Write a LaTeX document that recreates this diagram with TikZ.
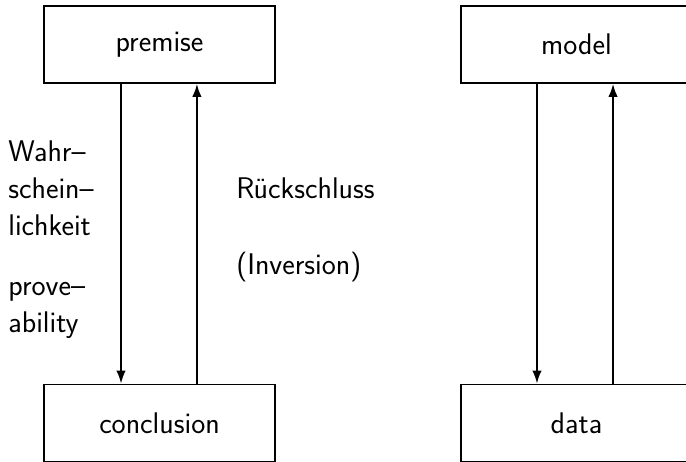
\documentclass[tikz,border=0pt]{standalone}
\usepackage{tikz}
\usetikzlibrary{arrows.meta,positioning}
\tikzset{
  box/.style={draw=black, line width=1.1pt, minimum width=231*0.02cm,
              minimum height=77*0.02cm, inner sep=0pt,
              font=\sffamily\fontsize{17}{21.2}\selectfont},
  lab/.style={inner sep=0pt, align=left,
              font=\sffamily\fontsize{17}{21.2}\selectfont},
  flow/.style={-{Latex[length=2.6mm,width=1.9mm]}, line width=1pt},
}
\begin{document}
\begin{tikzpicture}[x=0.02cm,y=0.02cm]
  \useasboundingbox (0,0) rectangle (686,462);

  % left pair
  \node[box] (premise) at (159.5,417.5) {premise};
  \node[box] (conclusion) at (159.5,39) {conclusion};
  \draw[flow] ([xshift=-21.9pt]premise.south) -- ([xshift=-21.9pt]conclusion.north);
  \draw[flow] ([xshift=21.3pt]conclusion.north) -- ([xshift=21.3pt]premise.south);

  \node[lab, anchor=north west] (wahr) at (8,322) {Wahr--\\schein--\\lichkeit};
  \node[lab, anchor=north west] (prove) at (8,180) {prove--\\ability};
  \node[lab, anchor=north west] (rueck) at (236,285) {Rückschluss};
  \node[lab, anchor=north west] (inv) at (236,210) {(Inversion)};

  % right pair
  \node[box] (model) at (576.5,417.5) {model};
  \node[box] (data) at (576.5,39) {data};
  \draw[flow] ([xshift=-22.5pt]model.south) -- ([xshift=-22.5pt]data.north);
  \draw[flow] ([xshift=20.8pt]data.north) -- ([xshift=20.8pt]model.south);
\end{tikzpicture}
\end{document}
